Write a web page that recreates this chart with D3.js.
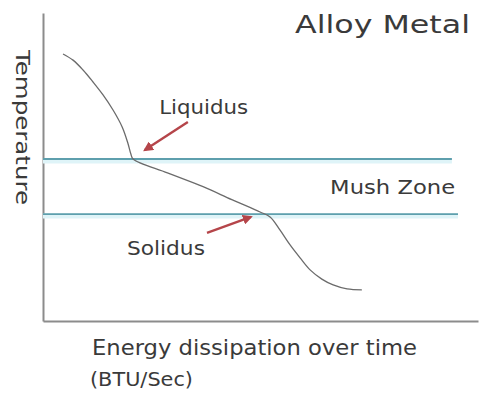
<!DOCTYPE html>
<html>
<head>
<meta charset="utf-8">
<script src="https://cdn.jsdelivr.net/npm/d3@7/dist/d3.min.js"></script>
<style>
  html, body { margin: 0; padding: 0; background: #fff; }
  svg { display: block; }
  text { font-family: "DejaVu Sans", sans-serif; fill: #3a3a3a; }
</style>
</head>
<body>
<svg id="chart" width="481" height="393"></svg>
<script>
// Cooling curve of an alloy: temperature vs. energy dissipated (arbitrary 0–100 units)
const curveEnergy = [4.6, 6.9, 9.2, 11.5, 13.8, 16.1, 18.2, 19.5, 20.2, 20.7, 28.6, 36.8, 43.4,
                     49.9, 52.2, 54.5, 56.8, 59.1, 61.4, 64.1, 66.7, 69.9, 73.3];
const curveTemp   = [86.7, 84.7, 81.5, 77.6, 73.4, 68.5, 63.0, 57.8, 54.2, 52.6, 48.1, 43.6, 39.4,
                     35.4, 33.8, 29.5, 24.7, 20.5, 16.6, 13.6, 11.7, 10.4, 10.1];

// Phase boundaries
const boundaryNames = ["Liquidus", "Solidus"];
const boundaryTemp  = [52.6, 34.7];
const boundaryEnd   = [94.0, 95.4];

// Annotation arrows: [energy, temp] of tail and tip
const arrowNames = ["Liquidus", "Solidus"];
const arrowFrom  = [[33.3, 64.6], [37.7, 28.6]];
const arrowTo    = [[23.4, 55.5], [47.8, 33.8]];

// Annotation labels anchored in data space, with their drawn widths
const labelText  = ["Liquidus", "Mush Zone", "Solidus"];
const labelPos   = [[26.7, 67.2], [66.0, 41.2], [19.3, 21.4]];
const labelWidth = [89, 125, 78];

const titleText = "Alloy Metal";
const xTitle = ["Energy dissipation over time", "(BTU/Sec)"];
const yTitle = "Temperature";

const svg = d3.select("#chart");
const margin = { left: 43, right: 3, top: 13, bottom: 72 };
const W = 481, H = 393;

const x = d3.scaleLinear().domain([0, 100]).range([margin.left, W - margin.right]);
const y = d3.scaleLinear().domain([0, 100]).range([H - margin.bottom, margin.top]);

// Axes (plain lines, no ticks)
const axisColor = "#8c8c8c";
const xAxis = d3.axisBottom(x).tickValues([]).tickSizeOuter(0);
const yAxis = d3.axisLeft(y).tickValues([]).tickSizeOuter(0);
svg.append("g").attr("transform", `translate(0,${y(0)})`).call(xAxis)
  .select(".domain").attr("stroke", axisColor).attr("stroke-width", 2.2);
svg.append("g").attr("transform", `translate(${x(0)},0)`).call(yAxis)
  .select(".domain").attr("stroke", axisColor).attr("stroke-width", 2);

// Phase boundary lines with a soft cyan glow
const bounds = boundaryNames.map((n, i) => ({ name: n, t: boundaryTemp[i], end: boundaryEnd[i] }));
svg.append("g").selectAll("line").data(bounds).join("line")
  .attr("x1", x(0)).attr("x2", d => x(d.end))
  .attr("y1", d => y(d.t) + 2).attr("y2", d => y(d.t) + 2)
  .attr("stroke", "#dff4f8").attr("stroke-width", 5);
svg.append("g").selectAll("line").data(bounds).join("line")
  .attr("x1", x(0)).attr("x2", d => x(d.end))
  .attr("y1", d => y(d.t)).attr("y2", d => y(d.t))
  .attr("stroke", "#5e9fad").attr("stroke-width", 1.8);

// Cooling curve
const pts = curveEnergy.map((e, i) => [e, curveTemp[i]]);
const line = d3.line().x(d => x(d[0])).y(d => y(d[1])).curve(d3.curveCatmullRom.alpha(0.5));
svg.append("path").datum(pts)
  .attr("d", line)
  .attr("fill", "none")
  .attr("stroke", "#6b6b6b")
  .attr("stroke-width", 1.3);

// Arrow marker
const arrowColor = "#b5454a";
svg.append("defs").append("marker")
  .attr("id", "head")
  .attr("viewBox", "0 0 10 10")
  .attr("refX", 8).attr("refY", 5)
  .attr("markerWidth", 4.2).attr("markerHeight", 4.2)
  .attr("orient", "auto")
  .append("path").attr("d", "M0,0 L10,5 L0,10 Z").attr("fill", arrowColor);

const arrows = arrowNames.map((n, i) => ({ name: n, a: arrowFrom[i], b: arrowTo[i] }));
svg.append("g").selectAll("line").data(arrows).join("line")
  .attr("x1", d => x(d.a[0])).attr("y1", d => y(d.a[1]))
  .attr("x2", d => x(d.b[0])).attr("y2", d => y(d.b[1]))
  .attr("stroke", arrowColor).attr("stroke-width", 2.4)
  .attr("marker-end", "url(#head)");

// Wide geometric lettering: stretch glyphs to the set width
function wide(sel, w) {
  return sel.attr("textLength", w).attr("lengthAdjust", "spacingAndGlyphs");
}

// Annotation labels
svg.append("g").selectAll("text").data(labelText).join("text")
  .attr("x", (d, i) => x(labelPos[i][0]))
  .attr("y", (d, i) => y(labelPos[i][1]))
  .attr("font-size", 20)
  .attr("textLength", (d, i) => labelWidth[i])
  .attr("lengthAdjust", "spacingAndGlyphs")
  .text(d => d);

// Title
wide(svg.append("text")
  .attr("x", 295).attr("y", 33)
  .attr("font-size", 25)
  .text(titleText), 175);

// X-axis title (two lines)
wide(svg.append("text").attr("x", 92).attr("y", 355).attr("font-size", 21).text(xTitle[0]), 325);
wide(svg.append("text").attr("x", 90).attr("y", 386).attr("font-size", 20).text(xTitle[1]), 103);

// Y-axis title, reading downward
wide(svg.append("text")
  .attr("transform", "translate(16,50) rotate(90)")
  .attr("font-size", 20)
  .text(yTitle), 155);
</script>
</body>
</html>
